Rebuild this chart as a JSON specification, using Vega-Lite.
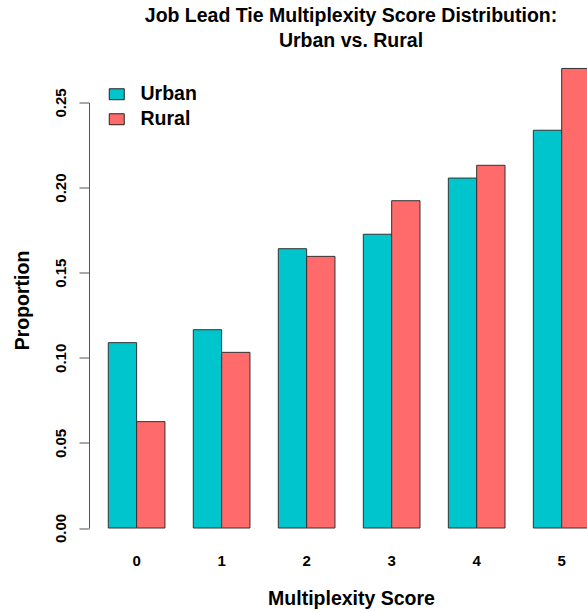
{
  "$schema": "https://vega.github.io/schema/vega-lite/v6.json",
  "autosize": {"type": "none"},
  "padding": {"left": 89, "top": 102.5, "right": 0, "bottom": 84},
  "width": 498,
  "height": 425.5,
  "background": "white",
  "title": {
    "text": ["Job Lead Tie Multiplexity Score Distribution:", "Urban vs. Rural"],
    "font": "Liberation Sans",
    "fontSize": 19.5,
    "fontWeight": "bold",
    "color": "black",
    "anchor": "middle",
    "frame": "group",
    "dx": 13,
    "offset": 16,
    "lineHeight": 25
  },
  "data": {
    "values": [
      {"score": "0", "area": "Urban", "proportion": 0.1089},
      {"score": "0", "area": "Rural", "proportion": 0.0625},
      {"score": "1", "area": "Urban", "proportion": 0.1165},
      {"score": "1", "area": "Rural", "proportion": 0.1032},
      {"score": "2", "area": "Urban", "proportion": 0.1641},
      {"score": "2", "area": "Rural", "proportion": 0.1596},
      {"score": "3", "area": "Urban", "proportion": 0.1726},
      {"score": "3", "area": "Rural", "proportion": 0.1923},
      {"score": "4", "area": "Urban", "proportion": 0.2056},
      {"score": "4", "area": "Rural", "proportion": 0.2131},
      {"score": "5", "area": "Urban", "proportion": 0.2337},
      {"score": "5", "area": "Rural", "proportion": 0.270}
    ]
  },
  "mark": {"type": "bar", "stroke": "#333333", "strokeWidth": 1},
  "encoding": {
    "x": {
      "field": "score",
      "type": "nominal",
      "scale": {"range": [0, 520.3], "paddingInner": 0.3333, "paddingOuter": 0.2267},
      "axis": {
        "title": "Multiplexity Score",
        "titleFont": "Liberation Sans",
        "titleFontSize": 19.5,
        "titleFontWeight": "bold",
        "titleColor": "black",
        "titleX": 262,
        "titleY": 70,
        "titleAlign": "center",
        "titleBaseline": "middle",
        "labelAngle": 0,
        "labelFont": "Liberation Sans",
        "labelFontSize": 15,
        "labelFontWeight": "bold",
        "labelColor": "black",
        "labelPadding": 25,
        "domain": false,
        "ticks": false,
        "grid": false
      }
    },
    "xOffset": {
      "field": "area",
      "type": "nominal",
      "sort": ["Urban", "Rural"],
      "scale": {"paddingInner": 0, "paddingOuter": 0}
    },
    "y": {
      "field": "proportion",
      "type": "quantitative",
      "scale": {"domain": [0, 0.25], "nice": false, "zero": true},
      "axis": {
        "title": "Proportion",
        "titleFont": "Liberation Sans",
        "titleFontSize": 19.5,
        "titleFontWeight": "bold",
        "titleColor": "black",
        "titleX": -67,
        "titleY": 197.5,
        "titleAngle": -90,
        "titleAlign": "center",
        "titleBaseline": "middle",
        "values": [0, 0.05, 0.1, 0.15, 0.2, 0.25],
        "format": ".2f",
        "labelAngle": -90,
        "labelAlign": "center",
        "labelBaseline": "bottom",
        "labelFont": "Liberation Sans",
        "labelFontSize": 15,
        "labelFontWeight": "bold",
        "labelColor": "black",
        "labelPadding": 11,
        "tickSize": 10,
        "tickColor": "#555555",
        "domainColor": "#555555",
        "grid": false
      }
    },
    "color": {
      "field": "area",
      "type": "nominal",
      "sort": ["Urban", "Rural"],
      "scale": {"domain": ["Urban", "Rural"], "range": ["#00C5CD", "#FF6A6A"]},
      "legend": {
        "title": null,
        "orient": "none",
        "legendX": 18,
        "legendY": -18,
        "symbolType": "M-1,-0.73H1V0.73H-1Z",
        "symbolSize": 225,
        "symbolStrokeColor": "#222222",
        "symbolStrokeWidth": 1,
        "symbolOpacity": 1,
        "labelFont": "Liberation Sans",
        "labelFontSize": 19.5,
        "labelFontWeight": "bold",
        "labelColor": "black",
        "labelOffset": 14,
        "rowPadding": 4
      }
    }
  },
  "config": {"view": {"stroke": null}}
}
